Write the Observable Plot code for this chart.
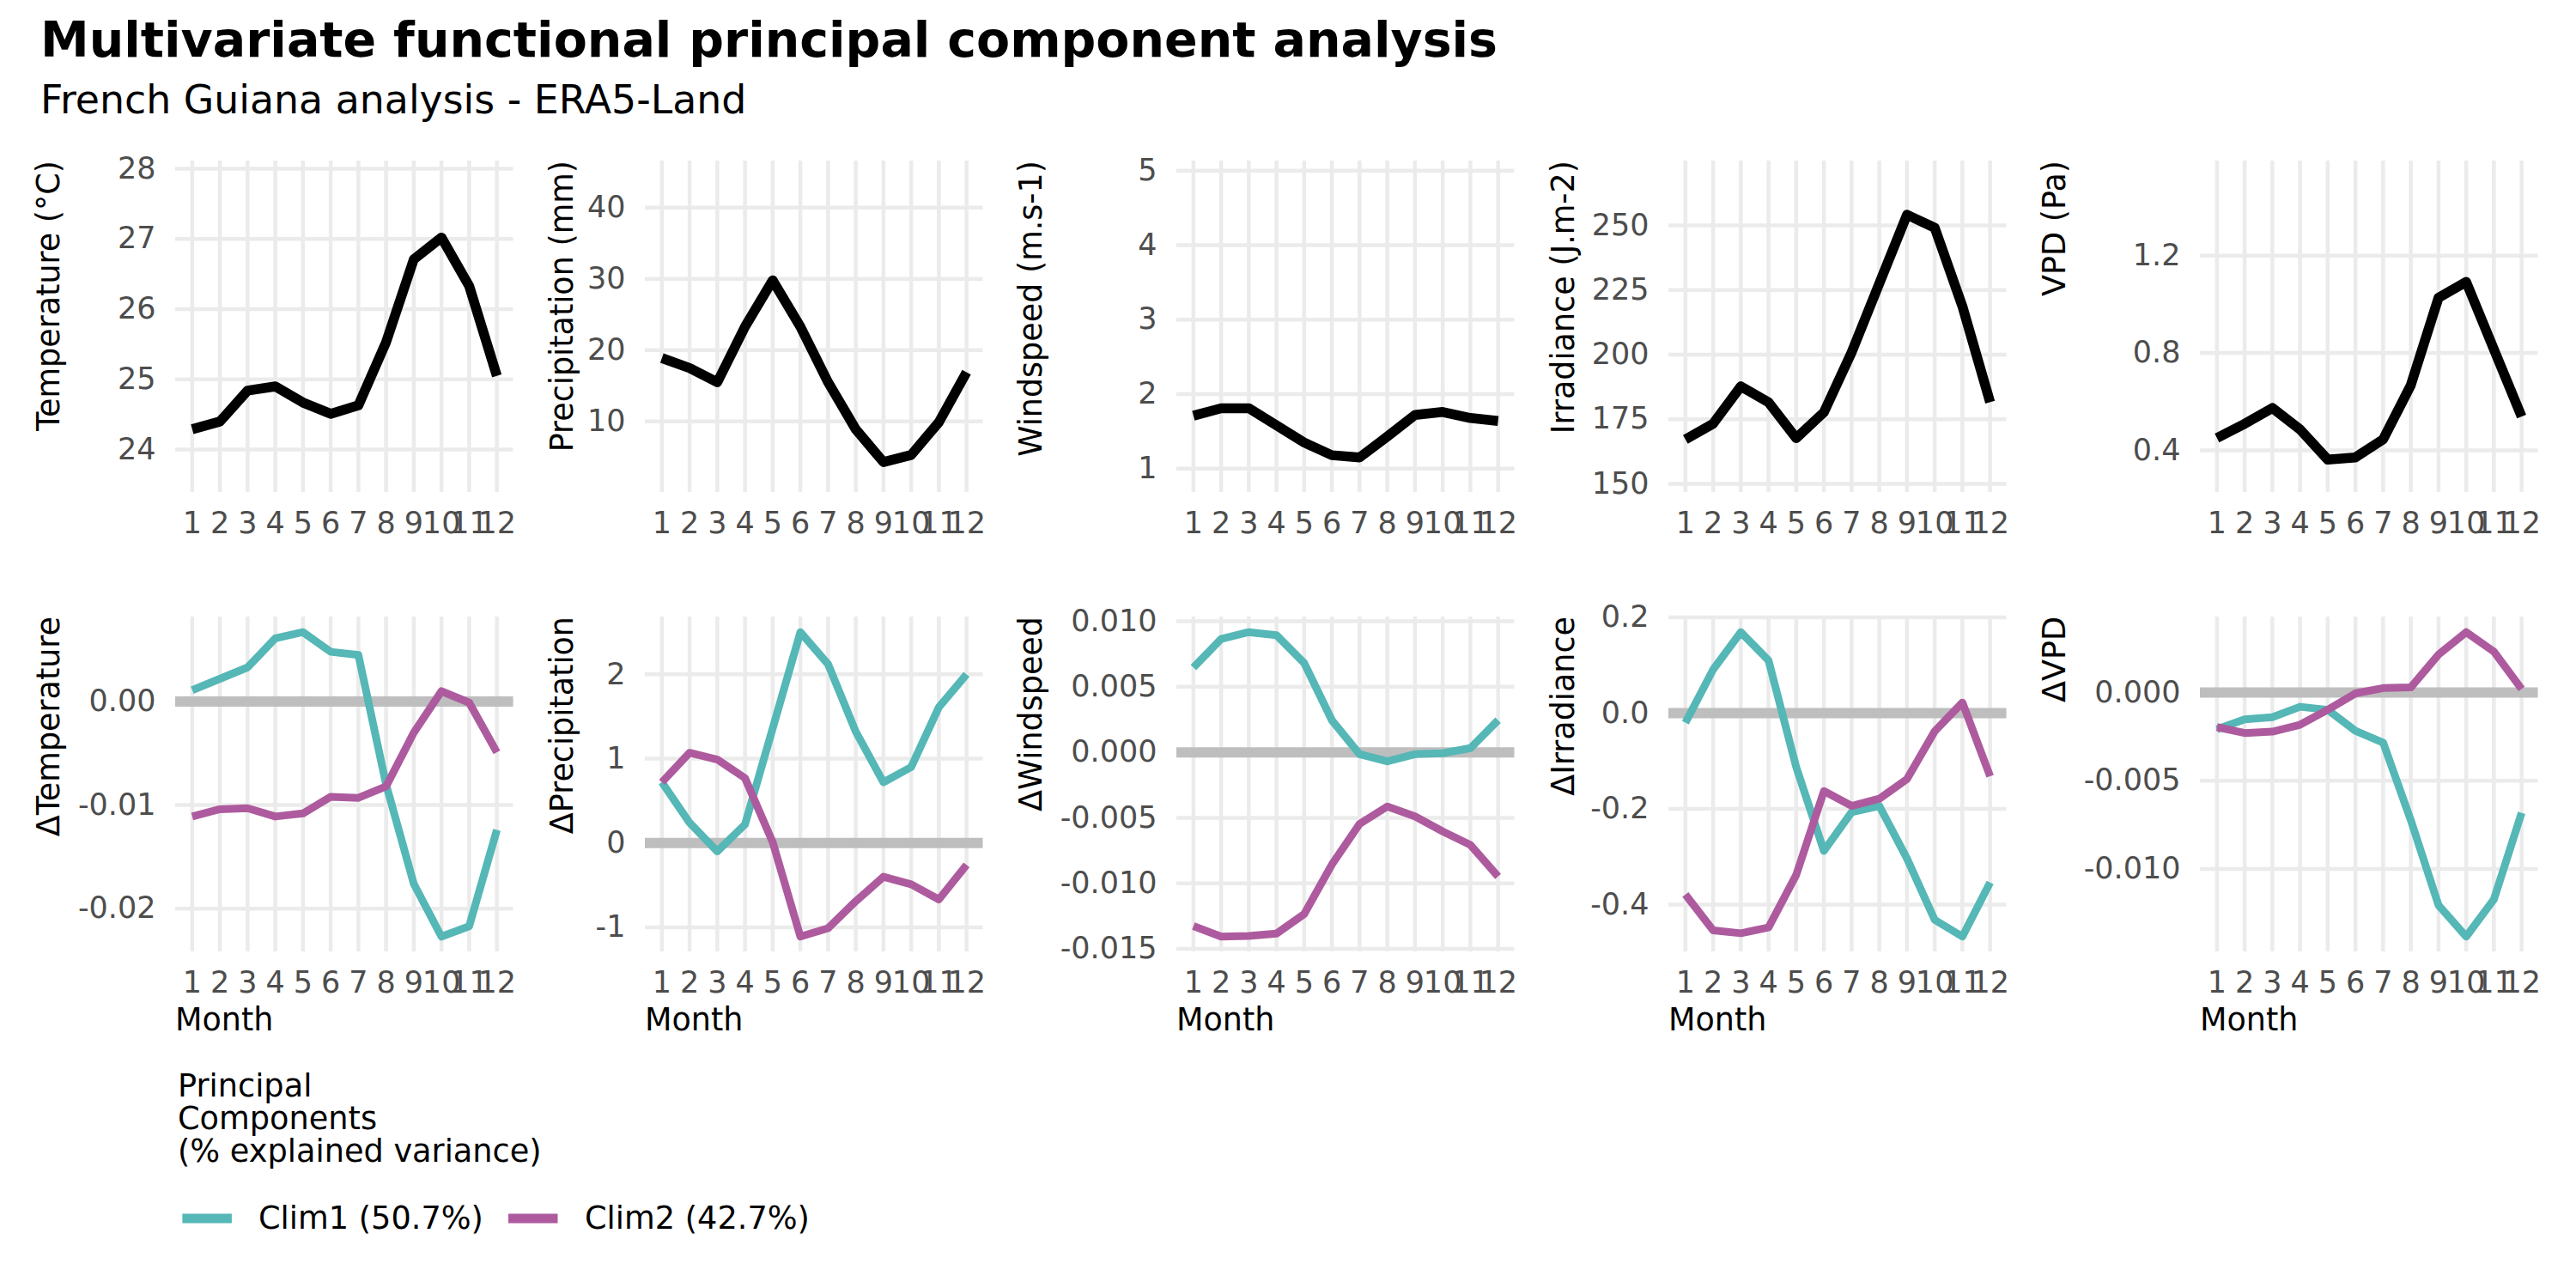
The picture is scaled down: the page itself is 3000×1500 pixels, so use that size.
<!DOCTYPE html>
<html><head><meta charset="utf-8">
<script src="https://cdn.jsdelivr.net/npm/d3@7"></script>
<script src="https://cdn.jsdelivr.net/npm/@observablehq/plot@0.6"></script>
<style>
body{margin:0;background:#fff;}
#fig{position:relative;width:3000px;height:1500px;background:#fff;font-family:"DejaVu Sans",sans-serif;overflow:hidden}
</style></head><body><div id="fig"></div>
<script>
// ---- data ----
const months = [1,2,3,4,5,6,7,8,9,10,11,12];
const seriesNames = ["Clim1","Clim2"];
const legendLabels = ["Clim1 (50.7%)","Clim2 (42.7%)"];

const meanTemperature   = [24.29,24.40,24.84,24.90,24.67,24.51,24.63,25.53,26.71,27.02,26.33,25.05];
const meanPrecipitation = [18.9,17.5,15.5,23.3,29.8,23.3,15.5,8.9,4.3,5.3,9.9,16.9];
const meanWindspeed     = [1.71,1.81,1.81,1.58,1.35,1.18,1.15,1.43,1.72,1.76,1.68,1.64];
const meanIrradiance    = [167.2,173.3,187.7,181.6,167.7,177.7,200.9,227.5,254.1,249.1,218.7,181.6];
const meanVPD           = [0.451,0.509,0.574,0.486,0.362,0.371,0.445,0.668,1.027,1.092,0.815,0.539];

const clim1Temperature   = [0.0011,0.0022,0.0033,0.0061,0.0067,0.0048,0.0045,-0.0080,-0.0176,-0.0227,-0.0217,-0.0124];
const clim2Temperature   = [-0.0111,-0.0104,-0.0103,-0.0111,-0.0108,-0.0092,-0.0093,-0.0082,-0.0030,0.0010,-0.0001,-0.0049];
const clim1Precipitation = [0.72,0.24,-0.10,0.22,1.36,2.50,2.12,1.32,0.72,0.90,1.61,2.00];
const clim2Precipitation = [0.72,1.07,0.99,0.77,0.01,-1.11,-1.01,-0.69,-0.40,-0.49,-0.67,-0.26];
const clim1Windspeed     = [0.00647,0.00865,0.00917,0.00894,0.00681,0.00245,-0.00014,-0.00069,-0.00014,-0.00007,0.00032,0.00245];
const clim2Windspeed     = [-0.01326,-0.01406,-0.01401,-0.01383,-0.01234,-0.00856,-0.00546,-0.00413,-0.00489,-0.00603,-0.00706,-0.00947];
const clim1Irradiance    = [-0.020,0.091,0.169,0.110,-0.113,-0.288,-0.207,-0.194,-0.304,-0.432,-0.467,-0.354];
const clim2Irradiance    = [-0.379,-0.454,-0.460,-0.448,-0.338,-0.163,-0.194,-0.179,-0.138,-0.038,0.022,-0.132];
const clim1VPD           = [-0.00208,-0.00152,-0.00140,-0.00081,-0.00098,-0.00217,-0.00284,-0.00724,-0.01206,-0.01384,-0.01173,-0.00682];
const clim2VPD           = [-0.00196,-0.00230,-0.00222,-0.00183,-0.00098,-0.00005,0.00025,0.00029,0.00215,0.00342,0.00232,0.00020];

const ticksTemperature    = [24,25,26,27,28];
const ticksPrecipitation  = [10,20,30,40];
const ticksWindspeed      = [1,2,3,4,5];
const ticksIrradiance     = [150,175,200,225,250];
const ticksVPD            = [0.4,0.8,1.2];
const ticksDTemperature   = [-0.02,-0.01,0];
const ticksDPrecipitation = [-1,0,1,2];
const ticksDWindspeed     = [-0.015,-0.01,-0.005,0,0.005,0.01];
const ticksDIrradiance    = [-0.4,-0.2,0,0.2];
const ticksDVPD           = [-0.01,-0.005,0];

const topTitles    = ["Temperature (°C)","Precipitation (mm)","Windspeed (m.s-1)","Irradiance (J.m-2)","VPD (Pa)"];
const bottomTitles = ["ΔTemperature","ΔPrecipitation","ΔWindspeed","ΔIrradiance","ΔVPD"];
const topDomains   = [[23.39,28.11],[0.04,46.55],[0.68,5.13],[146.7,274.9],[0.227,1.589]];

// ---- layout / style ----
const TEAL = "#55B7B6", PURPLE = "#AD5B9E", GRID = "#EBEBEB", TICK = "#4D4D4D";
const ML = 220, MR = 20, MT = 20, MB = 130, W = 393.5;
const colL = [204.05, 751.4, 1370.2, 1943.0, 2562.3];
const colTitleX = [69, 667, 1213.5, 1833, 2405.5];
const rows = [{T:187.3, H:386}, {T:717.6, H:390}];
const fig = document.getElementById("fig");

function expand(vals){
  const [a,b] = d3.extent(vals); const r = b-a;
  return [a-0.05*r, b+0.05*r];
}

function makePanel(row, col, yDomain, yTicks, dec, dataMarks, title, withMonth){
  const L = colL[col], {T,H} = rows[row];
  const fmt = v => d3.format(`.${dec}f`)(v).replace("−","-");
  const chart = Plot.plot({
    width: ML+W+MR, height: MT+H+MB,
    marginLeft: ML, marginRight: MR, marginTop: MT, marginBottom: MB,
    style: {fontFamily: "DejaVu Sans", fontSize: "35px", background: "transparent", overflow: "visible"},
    x: {domain: [0.4, 12.6]},
    y: {domain: yDomain},
    color: {domain: seriesNames, range: [TEAL, PURPLE]},
    marks: [
      Plot.gridX(months, {stroke: GRID, strokeOpacity: 1, strokeWidth: 4.5}),
      Plot.gridY(yTicks, {stroke: GRID, strokeOpacity: 1, strokeWidth: 4.5}),
      ...dataMarks,
      Plot.axisX(months, {tickSize: 0, tickPadding: 22.5, color: TICK, fontSize: 35, label: null}),
      Plot.axisY(yTicks, {tickSize: 0, tickPadding: 23, tickFormat: fmt, color: TICK, fontSize: 35, label: null})
    ]
  });
  chart.style.position = "absolute";
  chart.style.left = (L-ML)+"px";
  chart.style.top = (T-MT)+"px";
  const svg = d3.select(chart);
  svg.append("text")
    .attr("transform", `translate(${colTitleX[col]-(L-ML)},${MT}) rotate(-90)`)
    .attr("text-anchor","end").attr("fill","black").attr("font-size",36.5)
    .attr("font-family","DejaVu Sans").text(title);
  if (withMonth) svg.append("text").attr("x",ML).attr("y",MT+H+92)
    .attr("text-anchor","start")
    .attr("fill","black").attr("font-size",36.5).attr("font-family","DejaVu Sans").text("Month");
  fig.appendChild(chart);
}

const means = [meanTemperature, meanPrecipitation, meanWindspeed, meanIrradiance, meanVPD];
const topTicks = [ticksTemperature, ticksPrecipitation, ticksWindspeed, ticksIrradiance, ticksVPD];
const topDec = [0,0,0,0,1];
const clim1 = [clim1Temperature, clim1Precipitation, clim1Windspeed, clim1Irradiance, clim1VPD];
const clim2 = [clim2Temperature, clim2Precipitation, clim2Windspeed, clim2Irradiance, clim2VPD];
const bottomTicks = [ticksDTemperature, ticksDPrecipitation, ticksDWindspeed, ticksDIrradiance, ticksDVPD];
const bottomDec = [2,0,3,1,3];

for (let c = 0; c < 5; c++){
  const meanTable = months.map((m,i) => ({month: m, value: means[c][i]}));
  makePanel(0, c, topDomains[c], topTicks[c], topDec[c], [
    Plot.line(meanTable, {x: "month", y: "value", stroke: "black", strokeWidth: 11.5, strokeLinecap: "butt", strokeLinejoin: "round"})
  ], topTitles[c], false);

  const pcTable = [
    ...months.map((m,i) => ({month: m, value: clim1[c][i], series: seriesNames[0]})),
    ...months.map((m,i) => ({month: m, value: clim2[c][i], series: seriesNames[1]}))
  ];
  makePanel(1, c, expand(pcTable.map(d => d.value)), bottomTicks[c], bottomDec[c], [
    Plot.ruleY([0], {stroke: "#BEBEBE", strokeWidth: 12}),
    Plot.line(pcTable, {x: "month", y: "value", stroke: "series", strokeWidth: 9, strokeLinecap: "butt", strokeLinejoin: "round"})
  ], bottomTitles[c], true);
}

// ---- title, subtitle, legend ----
const ov = d3.select(fig).append("svg").attr("width",3000).attr("height",1500)
  .style("position","absolute").style("left","0px").style("top","0px")
  .attr("font-family","DejaVu Sans");
ov.append("text").attr("x",47).attr("y",66).attr("font-size",57).attr("font-weight","bold")
  .attr("fill","black").text("Multivariate functional principal component analysis");
ov.append("text").attr("x",47).attr("y",132).attr("font-size",45.8)
  .attr("fill","black").text("French Guiana analysis - ERA5-Land");
const legendTitle = ["Principal","Components","(% explained variance)"];
const ltY = [1277,1315,1353];
legendTitle.forEach((t,i) => ov.append("text").attr("x",207).attr("y",ltY[i]).attr("font-size",36.7).attr("fill","black").text(t));
const keyX = [212.4, 592];
const labX = [301, 681];
[TEAL, PURPLE].forEach((col,i) => {
  ov.append("line").attr("x1",keyX[i]).attr("x2",keyX[i]+57.5).attr("y1",1419).attr("y2",1419)
    .attr("stroke",col).attr("stroke-width",11);
  ov.append("text").attr("x",labX[i]).attr("y",1431).attr("font-size",36.7).attr("fill","black").text(legendLabels[i]);
});
</script></body></html>
